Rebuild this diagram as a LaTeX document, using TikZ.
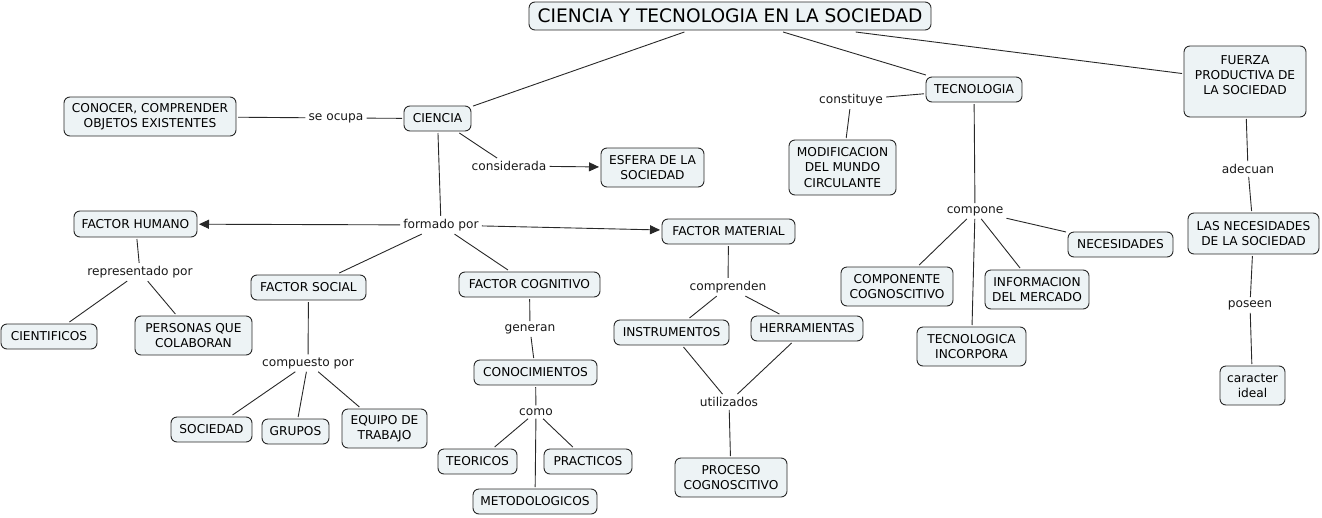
\documentclass[tikz,border=0pt]{standalone}
\usepackage{fontspec}
\setmainfont{DejaVu Sans}
\usetikzlibrary{arrows.meta}
\definecolor{boxfill}{RGB}{237,243,245}
\definecolor{linec}{RGB}{40,40,40}
\newcommand{\cfont}{\fontsize{12.2}{15.3}\selectfont}
\newcommand{\tfont}{\fontsize{18.6}{21}\selectfont}
\tikzset{
  concept/.style={draw=linec, fill=boxfill, rounded corners=6pt, align=center, inner sep=0pt, outer sep=2pt, font=\cfont, line width=0.9pt},
  phrase/.style={align=center, inner sep=3pt, font=\cfont, text=black!90},
  link/.style={draw=linec, line width=0.9pt},
  arr/.style={link, -{Triangle[length=10pt,width=9pt]}}
}
\begin{document}
\begin{tikzpicture}[x=1pt,y=-1pt]
\useasboundingbox (0,0) rectangle (1322,517);
% concepts
\node[concept, font=\tfont, minimum width=402pt, minimum height=28pt] (title) at (730,16) {CIENCIA Y TECNOLOGIA EN LA SOCIEDAD};
\node[concept, minimum width=67pt, minimum height=25pt] (ciencia) at (437.5,118.5) {CIENCIA};
\node[concept, minimum width=172pt, minimum height=39pt] (conocer) at (150,116.5) {CONOCER, COMPRENDER\\OBJETOS EXISTENTES};
\node[concept, minimum width=96pt, minimum height=25pt] (tecnologia) at (974,89.5) {TECNOLOGIA};
\node[concept, minimum width=122pt, minimum height=71pt] (fuerza) at (1245,81.5) {};
\node[font=\cfont, align=center, inner sep=0pt] (fuerzatext) at (1245,75) {FUERZA\\PRODUCTIVA DE\\LA SOCIEDAD};
\node[concept, minimum width=107pt, minimum height=55pt] (modif) at (842.5,167.5) {MODIFICACION\\DEL MUNDO\\CIRCULANTE};
\node[concept, minimum width=103pt, minimum height=39pt] (esfera) at (652.5,167.5) {ESFERA DE LA\\SOCIEDAD};
\node[concept, minimum width=123pt, minimum height=26pt] (fhumano) at (135.5,224) {FACTOR HUMANO};
\node[concept, minimum width=133pt, minimum height=25pt] (fmaterial) at (728.5,231.5) {FACTOR MATERIAL};
\node[concept, minimum width=115pt, minimum height=25pt] (fsocial) at (308.5,287.5) {FACTOR SOCIAL};
\node[concept, minimum width=141pt, minimum height=25pt] (fcognitivo) at (529.5,284.5) {FACTOR COGNITIVO};
\node[concept, minimum width=96pt, minimum height=25pt] (cientificos) at (49,336.5) {CIENTIFICOS};
\node[concept, minimum width=117pt, minimum height=39pt] (personas) at (193.5,335.5) {PERSONAS QUE\\COLABORAN};
\node[concept, minimum width=115pt, minimum height=25pt] (instrumentos) at (671.5,332.5) {INSTRUMENTOS};
\node[concept, minimum width=112pt, minimum height=25pt] (herramientas) at (807,328.5) {HERRAMIENTAS};
\node[concept, minimum width=123pt, minimum height=25pt] (conocimientos) at (535.5,372.5) {CONOCIMIENTOS};
\node[concept, minimum width=81pt, minimum height=25pt] (sociedad) at (211.5,429.5) {SOCIEDAD};
\node[concept, minimum width=67pt, minimum height=25pt] (grupos) at (295.5,431.5) {GRUPOS};
\node[concept, minimum width=85pt, minimum height=39pt] (equipo) at (384.5,428.5) {EQUIPO DE\\TRABAJO};
\node[concept, minimum width=79pt, minimum height=25pt] (teoricos) at (477.5,461.5) {TEORICOS};
\node[concept, minimum width=88pt, minimum height=25pt] (practicos) at (588,461.5) {PRACTICOS};
\node[concept, minimum width=124pt, minimum height=25pt] (metodologicos) at (535,501.5) {METODOLOGICOS};
\node[concept, minimum width=112pt, minimum height=39pt] (proceso) at (731,477.5) {PROCESO\\COGNOSCITIVO};
\node[concept, minimum width=105pt, minimum height=25pt] (necesidades) at (1120.5,244.5) {NECESIDADES};
\node[concept, minimum width=112pt, minimum height=39pt] (componente) at (897,286.5) {COMPONENTE\\COGNOSCITIVO};
\node[concept, minimum width=104pt, minimum height=39pt] (informacion) at (1037,289.5) {INFORMACION\\DEL MERCADO};
\node[concept, minimum width=109pt, minimum height=39pt] (tecnologica) at (971.5,346.5) {TECNOLOGICA\\INCORPORA};
\node[concept, minimum width=131pt, minimum height=41pt] (lasnec) at (1253.5,233.5) {LAS NECESIDADES\\DE LA SOCIEDAD};
\node[concept, minimum width=65pt, minimum height=39pt] (caracter) at (1252.5,385.5) {caracter\\ideal};
% linking phrases
\node[phrase] (seocupa) at (336,118) {se ocupa};
\node[phrase] (constituye) at (851,100) {constituye};
\node[phrase] (considerada) at (509,166) {considerada};
\node[phrase] (formado) at (441,225) {formado por};
\node[phrase] (representado) at (140,272) {representado por};
\node[phrase] (comprenden) at (728,287) {comprenden};
\node[phrase] (compuesto) at (308,363) {compuesto por};
\node[phrase] (generan) at (530,329) {generan};
\node[phrase] (como) at (536,412) {como};
\node[phrase] (utilizados) at (729,402) {utilizados};
\node[phrase] (compone) at (975,211) {compone};
\node[phrase] (adecuan) at (1248,169) {adecuan};
\node[phrase] (poseen) at (1250,305) {poseen};
% connectors
\draw[link] (title) -- (ciencia);
\draw[link] (title) -- (tecnologia);
\draw[link] (title) -- (fuerza);
\draw[link] (conocer) -- (seocupa);
\draw[link] (seocupa) -- (ciencia);
\draw[link] (ciencia) -- (considerada);
\draw[arr] (considerada) -- (esfera);
\draw[link] (ciencia) -- (formado);
\draw[arr] (formado) -- (fhumano);
\draw[arr] (formado) -- (fmaterial);
\draw[link] (formado) -- (fsocial);
\draw[link] (formado) -- (fcognitivo);
\draw[link] (fhumano) -- (representado);
\draw[link] (representado) -- (cientificos);
\draw[link] (representado) -- (personas);
\draw[link] (fsocial) -- (compuesto);
\draw[link] (compuesto) -- (sociedad);
\draw[link] (compuesto) -- (grupos);
\draw[link] (compuesto) -- (equipo);
\draw[link] (fcognitivo) -- (generan);
\draw[link] (generan) -- (conocimientos);
\draw[link] (conocimientos) -- (como);
\draw[link] (como) -- (teoricos);
\draw[link] (como) -- (practicos);
\draw[link] (como) -- (metodologicos);
\draw[link] (fmaterial) -- (comprenden);
\draw[link] (comprenden) -- (instrumentos);
\draw[link] (comprenden) -- (herramientas);
\draw[link] (instrumentos) -- (utilizados);
\draw[link] (herramientas) -- (utilizados);
\draw[link] (utilizados) -- (proceso);
\draw[link] (tecnologia) -- (constituye);
\draw[link] (constituye) -- (modif);
\draw[link] (tecnologia) -- (compone);
\draw[link] (compone) -- (componente);
\draw[link] (compone) -- (tecnologica);
\draw[link] (compone) -- (informacion);
\draw[link] (compone) -- (necesidades);
\draw[link] (fuerza) -- (adecuan);
\draw[link] (adecuan) -- (lasnec);
\draw[link] (lasnec) -- (poseen);
\draw[link] (poseen) -- (caracter);
\end{tikzpicture}
\end{document}
